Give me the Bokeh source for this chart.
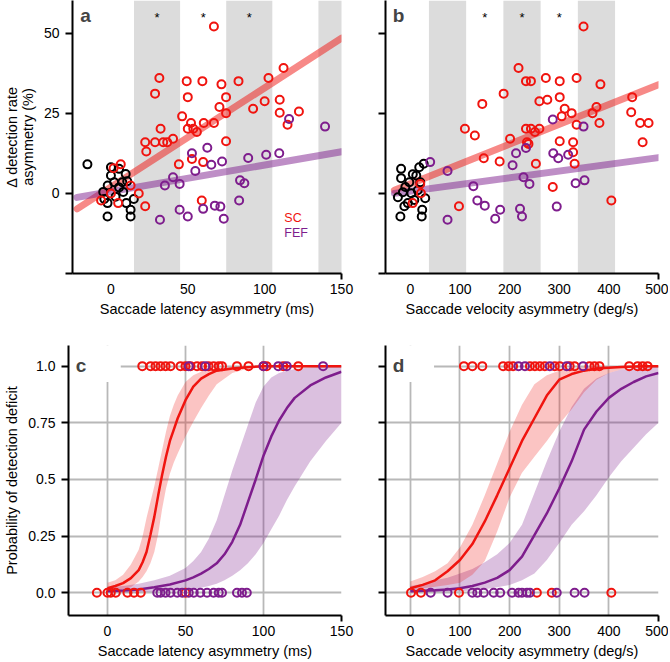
import numpy as np
from bokeh.plotting import figure
from bokeh.models import Range1d, FixedTicker, Label, BoxAnnotation
from bokeh.layouts import column, row
from bokeh.embed import file_html
from bokeh.resources import INLINE
from bokeh.core.properties import value

FONT = "Liberation Sans"
RED = "#f0140f"
PURPLE = "#7e1d8d"
SHADE = "#dcdcdc"
GRID = "#b8b8b8"

# ---------------- panel a : latency asymmetry vs detection asymmetry
a_ctrl_x = [-15.3, 0, 5.3, 9.6, 0, 2.1, 7.4, 10.6, -2.1, 5.3, -4.3, -2.2, 14.9, 12.8, 12.8, -2.2, 3, 8, -5, 10]
a_ctrl_y = [9.1, 8.2, 7.7, 6.1, 5.6, 3.5, 3.5, 3.8, 2.5, 1.9, -1.7, -3, -1.7, -5.1, -7.2, -7.2, -1, 0.5, 0.5, -3]
a_sc_x = [67, 31.5, 28.7, 49.3, 59.5, 50, 71.9, 74.9, 83, 102.5, 112.3, 70.6, 74.9, 92.5, 100, 109.8, 109.8,
          122.3, 114.9, 46.3, 52.1, 50, 53.6, 55.9, 60.4, 67, 32.3, 22.3, 28.7, 34, 36.6, 40.4, 23, 74.9,
          52.7, 60, 44.2, 6.4, 1.7, 12.8, 0, -6.4, 4.7, 18.1, 22.3, 59.1]
a_sc_y = [52.2, 36.1, 31.2, 35.1, 35.1, 30.1, 34.1, 30.1, 35.1, 36.1, 39.2, 27, 25.1, 26.5, 28.8, 29.3, 25.2,
          25.6, 21.5, 24.1, 22, 20.2, 20.2, 19.2, 22, 22, 20.2, 16, 16, 16, 16, 17.1, 13.1, 16.3,
          10.8, 9.8, 9.1, 9.1, 7.9, 2.5, 0, -2.2, -3, 0, -4, -2.2]
a_fef_x = [115.9, 139.3, 62.7, 52.7, 54.9, 65.3, 72.3, 89.3, 101, 109.5, 40.4, 35.1, 44.7, 84, 86.8,
           31.9, 44.7, 50, 60, 67.6, 71.2, 73.4, 83.4]
a_fef_y = [23.3, 20.9, 14.3, 12.6, 7, 9, 10, 11.1, 12.1, 12.6, 5.1, 2.5, 3, 4.1, 3.2,
           -8.2, -5.1, -7.2, -4.8, -3.8, -4.1, -7.9, -2.2]
a_sc_fit = (2.0, 0.31)      # intercept, slope
a_fef_fit = (0.6, 0.083)
a_fit_span = [-22, 150]
a_bins = [(15, 45), (75, 105), (135, 165)]
a_stars = [30, 60, 90]

# ---------------- panel b : velocity asymmetry vs detection asymmetry
b_ctrl_x = [-18.6, 18, 27, -18.6, -2, 12, -25, -20, 23, 24, 30, -15, 2, -10, 8, 15, -5, 20, -12, 5]
b_ctrl_y = [7.7, 8.2, 9.3, 4.8, 3.5, 5.6, -1.2, -7.2, -7.2, -5.1, -1.5, 0.4, 0.1, 2, -2, 1, -3, 3.5, -4, 6]
b_sc_x = [349, 218, 233, 243, 273, 301, 335, 383, 188, 145, 260, 276, 301, 311, 305, 325, 367, 375, 447, 445,
          463, 480, 468, 381, 335, 110, 130, 201, 233, 243, 251, 260, 235, 238, 301, 328, 328, 331, 148, 180,
          253, 20, 21.4, 4.7, 98, 287, 405]
b_sc_y = [52.2, 39.2, 35.1, 35.1, 36.1, 35.1, 36.1, 34.1, 31.2, 28, 28.8, 29.3, 30.1, 26.5, 24.1, 25.1, 25.1,
          27, 30.1, 25.4, 22, 22, 16, 22, 21.5, 20.2, 18.1, 17.1, 20.2, 20.2, 19.2, 20.2, 16, 15.5, 16.3, 16,
          12.9, 9.3, 11, 10, 9.3, 3, 0.1, -3, -4, 2, -2.2]
b_fef_x = [287, 349, 213, 233, 206, 288, 298, 318, 40, 75, 228, 240, 127, 333, 351, 135, 150, 75, 181, 171,
           221, 225, 295]
b_fef_y = [23.1, 20.9, 12.6, 14.2, 8.8, 12.6, 11, 12.1, 9.8, 7, 5.1, 3, 2.3, 3.2, 4.1, -2.2, -3.8, -8.2, -5.1,
           -7.9, -4.8, -7.2, -4.1]
b_sc_fit = (3.0, 0.062)
b_fef_fit = (0.7, 0.021)
b_fit_span = [-32, 500]
b_bins = [(37.5, 112.5), (187.5, 262.5), (337.5, 412.5)]
b_stars = [150, 225, 300]

# ---------------- panel c : probability of deficit vs latency asymmetry
c_sc_hit_x = [22.3, 27.6, 30.8, 34, 37.2, 40.4, 46.8, 50, 53.2, 57.4, 60.6, 64.8, 68, 71.3, 73.4, 83, 90.4,
              100, 102, 112.7, 122.3]
c_sc_miss_x = [-6.8, 0, 2.1, 5.3, 12.8, 17, 21.3, 50]
c_fef_hit_x = [52.1, 62.7, 100, 109.5, 114.9, 138.2]
c_fef_miss_x = [31.9, 34, 37.2, 40.4, 44.7, 47.9, 52.1, 55.3, 59.5, 63.8, 68, 71.3, 73.4, 83, 86.2, 89.3]
c_sc_grid = [0, 5, 10, 15, 20, 22.5, 25, 27.5, 30, 32.5, 35, 37.5, 40, 42.5, 45, 50, 55, 60, 65, 70, 80, 90, 100, 150]
c_sc_mid = [.02, .03, .043, .065, .10, .135, .18, .255, .335, .43, .52, .60, .67, .72, .77, .85, .91, .945, .965,
            .98, .99, .995, 1, 1]
c_sc_hi = [.045, .055, .08, .125, .19, .25, .33, .40, .47, .55, .63, .71, .78, .83, .87, .93, .96, .975, .985,
           .99, .997, 1, 1, 1]
c_sc_lo = [.005, .008, .015, .025, .05, .07, .095, .13, .18, .26, .37, .46, .525, .575, .615, .69, .755, .815, .87,
           .92, .97, .99, .997, 1]
c_fef_grid = [0, 10, 20, 30, 40, 50, 55, 60, 65, 70, 75, 80, 85, 90, 95, 100, 105, 110, 115, 120, 130, 140, 150]
c_fef_mid = [.007, .01, .015, .025, .037, .055, .068, .085, .105, .13, .17, .225, .30, .40, .50, .605, .69, .76,
             .815, .86, .915, .95, .975]
c_fef_hi = [.025, .03, .04, .055, .075, .11, .14, .18, .24, .32, .43, .54, .64, .74, .84, .91, .95, .97, .98, .987,
            .994, .997, 1]
c_fef_lo = [.001, .002, .003, .005, .008, .013, .017, .022, .03, .04, .055, .075, .1, .13, .17, .22, .28, .34,
            .41, .47, .58, .67, .75]

# ---------------- panel d : probability of deficit vs velocity asymmetry
d_sc_hit_x = [108, 125, 145, 187, 198, 207, 241, 251, 261, 271, 291, 301, 321, 331, 361, 371, 381, 441, 458, 468, 478]
d_sc_miss_x = [1.4, 21.4, 98, 255, 285, 405]
d_fef_hit_x = [218, 231, 281, 315, 348]
d_fef_miss_x = [41, 75, 125, 135, 148, 168, 181, 205, 218, 225, 235, 241, 295, 331, 351]
d_grid = [0, 25, 50, 75, 100, 125, 150, 175, 200, 225, 250, 275, 300, 325, 350, 375, 400, 425, 450, 475, 500]
d_sc_mid = [.02, .035, .055, .095, .145, .215, .315, .43, .55, .67, .77, .87, .94, .965, .98, .99, .993, .996, .998, 1, 1]
d_sc_hi = [.05, .07, .095, .13, .2, .3, .43, .57, .71, .83, .92, .96, .98, .99, .995, 1, 1, 1, 1, 1, 1]
d_sc_lo = [.015, .02, .027, .035, .045, .08, .14, .27, .42, .53, .6, .67, .745, .81, .885, .94, .97, .985, .993, .997, 1]
d_fef_mid = [.007, .009, .011, .015, .02, .03, .045, .066, .1, .16, .255, .35, .46, .58, .72, .8, .86, .9, .93, .955, .97]
d_fef_hi = [.03, .04, .055, .066, .085, .105, .135, .17, .22, .3, .44, .58, .71, .82, .9, .945, .97, .985, .99, .995, 1]
d_fef_lo = [.002, .003, .004, .005, .007, .01, .016, .025, .035, .055, .085, .145, .22, .3, .36, .43, .51, .58, .64, .7, .75]

TOP_Y = (-25, 60.3)
BOT_Y = (-0.1, 1.091)


def make_fig(xr, yr, w, h, bl, br, bt, bb):
    p = figure(width=w, height=h, x_range=Range1d(*xr), y_range=Range1d(*yr),
               output_backend="svg", toolbar_location=None,
               min_border_left=bl, min_border_right=br, min_border_top=bt, min_border_bottom=bb)
    p.outline_line_color = None
    p.background_fill_color = "white"
    p.border_fill_color = "white"
    for ax in (p.xaxis[0], p.yaxis[0]):
        ax.axis_line_width = 2
        ax.axis_line_color = "black"
        ax.major_tick_line_width = 2
        ax.major_tick_line_color = "black"
        ax.major_tick_in = 0
        ax.minor_tick_line_color = None
        ax.major_label_text_font = FONT
        ax.major_label_text_font_size = "14px"
        ax.major_label_text_color = "black"
        ax.axis_label_text_font = FONT
        ax.axis_label_text_font_size = "14.5px"
        ax.axis_label_text_font_style = "normal"
        ax.axis_label_text_color = "black"
    # x axes: labelled positions without tick marks, one tick at the axis end
    xa = p.xaxis[0]
    xa.major_tick_out = 6
    xa.major_tick_line_color = None
    xa.minor_tick_line_color = "black"
    xa.minor_tick_line_width = 2
    xa.minor_tick_out = 6
    xa.minor_tick_in = 0
    xa.major_label_standoff = 4
    xa.axis_label_standoff = 4
    p.yaxis.major_tick_out = 7
    p.yaxis.major_label_standoff = 6
    p.yaxis.axis_label_standoff = 5
    return p


def x_ticks(p, ticks):
    p.xaxis.ticker = FixedTicker(ticks=ticks, minor_ticks=[ticks[-1]])


def hide_labels(axis, ticks):
    axis.major_label_overrides = {t: "" for t in ticks}


def letter(p, x, y, t):
    p.add_layout(Label(x=x, y=y, text=t, text_font=FONT, text_font_size="19px",
                       text_font_style="bold", text_align="left", text_baseline="alphabetic"))


def scatter_panel(p, ctrl, sc, fef, sc_fit, fef_fit, span, bins, stars):
    p.grid.visible = False
    for lo, hi in bins:
        p.add_layout(BoxAnnotation(left=lo, right=hi, fill_color=SHADE, fill_alpha=1.0,
                                   line_alpha=0, level="underlay"))
    sx = np.array(span, dtype=float)
    p.line(sx, sc_fit[0] + sc_fit[1] * sx, line_color=RED, line_alpha=0.5, line_width=7, line_cap="round")
    p.line(sx, fef_fit[0] + fef_fit[1] * sx, line_color=PURPLE, line_alpha=0.5, line_width=7, line_cap="round")
    kw = dict(marker="circle", size=8, fill_color=None, line_width=2)
    p.scatter(ctrl[0], ctrl[1], line_color="black", **kw)
    p.scatter(sc[0], sc[1], line_color=RED, **kw)
    p.scatter(fef[0], fef[1], line_color=PURPLE, **kw)
    star_y = 55
    p.text(x=stars, y=[star_y] * len(stars), text=["*"] * len(stars), text_font=value(FONT),
           text_font_size="13px", text_align="center", text_baseline="middle", text_color="black")


def prob_panel(p, sc_curve, fef_curve, sc_hit, sc_miss, fef_hit, fef_miss, cover_right):
    p.grid.grid_line_color = GRID
    p.grid.grid_line_width = 1.8
    p.quad(left=p.x_range.start, right=cover_right, bottom=0.93, top=p.y_range.end,
           fill_color="white", line_color=None)
    g, mid, lo, hi = fef_curve
    p.varea(x=g, y1=lo, y2=hi, fill_color=PURPLE, fill_alpha=0.28)
    g2, mid2, lo2, hi2 = sc_curve
    p.varea(x=g2, y1=lo2, y2=hi2, fill_color=RED, fill_alpha=0.25)
    p.line(g, mid, line_color=PURPLE, line_width=2.5)
    p.line(g2, mid2, line_color=RED, line_width=2.5)
    kw = dict(marker="circle", size=8, fill_color=None, line_width=2)
    p.scatter(sc_hit, [1] * len(sc_hit), line_color=RED, **kw)
    p.scatter(sc_miss, [0] * len(sc_miss), line_color=RED, **kw)
    p.scatter(fef_hit, [1] * len(fef_hit), line_color=PURPLE, **kw)
    p.scatter(fef_miss, [0] * len(fef_miss), line_color=PURPLE, **kw)


# ---- top row (frames: x 68-341 and 385-658, y 0-273)
pa = make_fig((-25, 150), TOP_Y, 363, 345, 68, 22, 0, 72)
x_ticks(pa, [0, 50, 100, 150])
pa.yaxis.ticker = FixedTicker(ticks=[-25, 0, 25, 50])
pa.yaxis.major_label_overrides = {-25: ""}
pa.xaxis.axis_label = "Saccade latency asymmetry (ms)"
pa.yaxis.axis_label = "\u0394 detection rate\nasymmetry (%)"
pa.yaxis.axis_label_text_line_height = 1.0
scatter_panel(pa, (a_ctrl_x, a_ctrl_y), (a_sc_x, a_sc_y), (a_fef_x, a_fef_y), a_sc_fit, a_fef_fit,
              a_fit_span, a_bins, a_stars)
letter(pa, -20, 55.6, "a")
pa.add_layout(Label(x=112.8, y=-7.6, text="SC", text_font=FONT, text_font_size="12.5px", text_color=RED,
                    text_baseline="middle"))
pa.add_layout(Label(x=112.8, y=-12.3, text="FEF", text_font=FONT, text_font_size="12.5px", text_color=PURPLE,
                    text_baseline="middle"))

pb = make_fig((-50, 500), TOP_Y, 305, 345, 22, 10, 0, 72)
x_ticks(pb, [0, 100, 200, 300, 400, 500])
pb.yaxis.ticker = FixedTicker(ticks=[-25, 0, 25, 50])
hide_labels(pb.yaxis, [-25, 0, 25, 50])
pb.xaxis.axis_label = "Saccade velocity asymmetry (deg/s)"
scatter_panel(pb, (b_ctrl_x, b_ctrl_y), (b_sc_x, b_sc_y), (b_fef_x, b_fef_y), b_sc_fit, b_fef_fit,
              b_fit_span, b_bins, b_stars)
letter(pb, -35.5, 55.6, "b")

# ---- bottom row (frames y 345-616)
pc = make_fig((-25, 150), BOT_Y, 363, 316, 68, 22, 0, 45)
x_ticks(pc, [0, 50, 100, 150])
pc.yaxis.ticker = FixedTicker(ticks=[0, 0.25, 0.5, 0.75, 1])
pc.yaxis.major_label_overrides = {0: "0.0", 0.25: "0.25", 0.5: "0.5", 0.75: "0.75", 1: "1.0"}
pc.xaxis.axis_label = "Saccade latency asymmetry (ms)"
pc.yaxis.axis_label = "Probability of detection deficit"
prob_panel(pc, (c_sc_grid, c_sc_mid, c_sc_lo, c_sc_hi), (c_fef_grid, c_fef_mid, c_fef_lo, c_fef_hi),
           c_sc_hit_x, c_sc_miss_x, c_fef_hit_x, c_fef_miss_x, 8.5)
letter(pc, -20.3, 1.003, "c")

pd_ = make_fig((-50, 500), BOT_Y, 305, 316, 22, 10, 0, 45)
x_ticks(pd_, [0, 100, 200, 300, 400, 500])
pd_.yaxis.ticker = FixedTicker(ticks=[0, 0.25, 0.5, 0.75, 1])
hide_labels(pd_.yaxis, [0, 0.25, 0.5, 0.75, 1])
pd_.xaxis.axis_label = "Saccade velocity asymmetry (deg/s)"
prob_panel(pd_, (d_grid, d_sc_mid, d_sc_lo, d_sc_hi), (d_grid, d_fef_mid, d_fef_lo, d_fef_hi),
           d_sc_hit_x, d_sc_miss_x, d_fef_hit_x, d_fef_miss_x, 47.8)
letter(pd_, -35.5, 1.003, "d")

layout = column(row(pa, pb), row(pc, pd_))
open("out.html", "w").write(file_html(layout, INLINE))
